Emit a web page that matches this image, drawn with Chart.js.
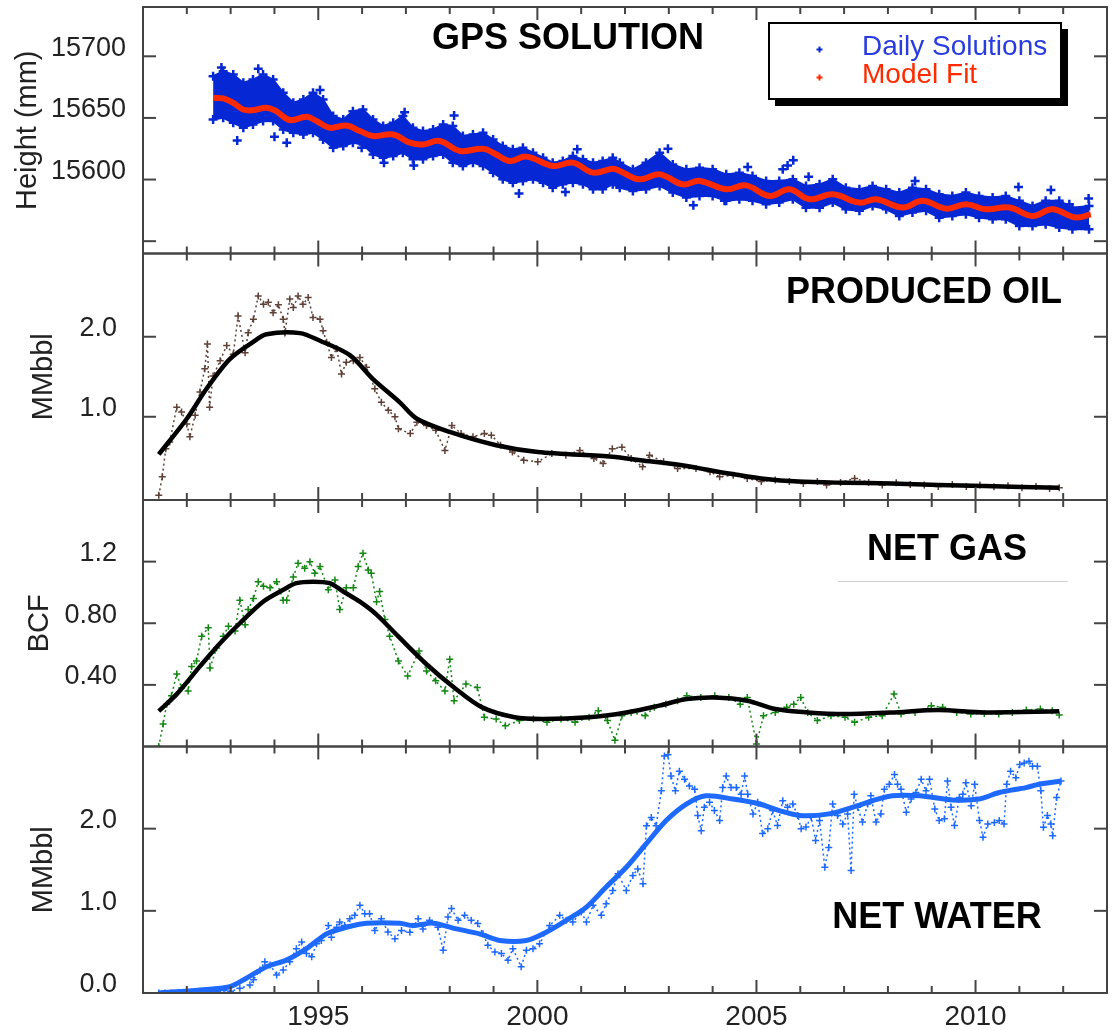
<!DOCTYPE html>
<html><head><meta charset="utf-8">
<script src="https://cdn.jsdelivr.net/npm/chart.js@4.4.1/dist/chart.umd.min.js"></script>
<style>html,body{margin:0;padding:0;background:#fff;}#wrap{position:relative;width:1114px;height:1030px;}</style>
</head><body><div id="wrap"><canvas id="c"></canvas></div>
<script>
// ---------------- DATA ----------------
const xTickYears = [1995, 2000, 2005, 2010];

// GPS daily solutions: upper / lower edge of the dense cloud (mm)
const gpsYears = [1992.60,1992.83,1993.06,1993.29,1993.51,1993.74,1993.97,1994.20,1994.43,1994.66,1994.88,1995.11,1995.34,1995.57,1995.79,1996.02,1996.25,1996.48,1996.71,1996.93,1997.16,1997.39,1997.62,1997.85,1998.07,1998.30,1998.53,1998.76,1998.99,1999.21,1999.44,1999.67,1999.90,2000.13,2000.35,2000.58,2000.81,2001.04,2001.27,2001.49,2001.72,2001.88,2002.18,2002.48,2002.79,2003.09,2003.40,2003.70,2004.00,2004.31,2004.61,2004.91,2005.22,2005.52,2005.83,2006.13,2006.44,2006.74,2007.04,2007.35,2007.65,2007.96,2008.26,2008.56,2008.87,2009.17,2009.47,2009.78,2010.08,2010.39,2010.69,2011.00,2011.30,2011.60,2011.91,2012.21,2012.59];
const gpsUpper = [15683.9,15687.9,15685.2,15678.5,15681.1,15685.2,15681.1,15670.4,15662.3,15664.9,15670.4,15664.9,15651.5,15648.7,15655.5,15656.9,15648.7,15643.4,15646.1,15651.5,15642.0,15639.3,15640.6,15644.7,15643.4,15635.3,15636.6,15638.0,15632.5,15627.2,15624.5,15625.8,15621.8,15617.7,15613.7,15615.1,15619.1,15616.4,15613.7,15615.1,15617.7,15613.7,15608.3,15613.7,15621.8,15612.3,15608.3,15609.6,15608.3,15604.2,15605.6,15602.9,15598.9,15598.9,15600.2,15594.8,15596.1,15600.2,15593.4,15592.1,15594.8,15592.1,15589.4,15593.4,15592.1,15588.0,15586.7,15589.4,15586.7,15585.4,15586.7,15582.7,15578.6,15582.7,15582.7,15577.2,15578.6];
const gpsLower = [15648.7,15650.1,15646.1,15642.0,15644.7,15647.5,15647.5,15640.6,15638.0,15636.6,15638.0,15632.5,15625.8,15627.2,15629.9,15628.5,15620.4,15617.7,15619.1,15621.8,15616.4,15616.4,15619.1,15620.4,15613.7,15611.0,15613.7,15611.0,15605.6,15600.2,15597.5,15598.9,15600.2,15597.5,15593.4,15596.1,15597.5,15596.1,15592.1,15592.1,15596.1,15593.4,15590.8,15592.1,15594.8,15589.4,15585.4,15586.7,15586.7,15582.7,15584.0,15582.7,15579.9,15581.3,15584.0,15577.2,15577.2,15581.3,15575.9,15574.6,15578.6,15575.9,15570.5,15573.2,15574.6,15569.1,15570.5,15571.8,15569.1,15567.8,15567.8,15562.4,15562.4,15563.7,15561.0,15559.7,15559.7];
const gpsOutliers = [[1992.79,15691],[1993.63,15689.8],[1993.15,15631.7],[1994.28,15629.9],[1994.0,15634.7],[1995.04,15672.6],[1995.99,15625.8],[1996.5,15613.7],[1997.18,15611.5],[1996.97,15654.7],[1998.1,15652],[1999.58,15588.6],[2000.64,15590],[2000.91,15624.5],[2002.98,15625],[2005.84,15615.6],[2005.71,15611.5],[2005.6,15608.3],[2003.56,15579.1],[2004.27,15582.7],[2004.8,15610.2],[2006.19,15602.3],[2008.62,15598.9],[2010.98,15594],[2011.72,15591.6],[2012.58,15584.6],[2012.14,15580]];
const gpsFitYears = [1992.6,1992.83,1993.06,1993.29,1993.51,1993.82,1994.04,1994.35,1994.73,1994.96,1995.26,1995.64,1995.95,1996.25,1996.71,1997.09,1997.39,1997.77,1998.23,1998.76,1999.06,1999.37,1999.75,2000.36,2000.81,2001.27,2001.72,2001.88,2002.33,2002.79,2003.32,2003.7,2004.31,2004.76,2005.3,2005.75,2006.21,2006.74,2007.35,2007.73,2008.34,2008.79,2009.33,2009.78,2010.24,2010.77,2011.3,2011.75,2012.29,2012.63];
const gpsFit = [15666.3,15665.8,15662.3,15656.8,15656.3,15658.2,15655.5,15648.3,15650.9,15647.5,15642.0,15643.9,15639.4,15635.3,15636.6,15629.9,15628.5,15631.3,15623.2,15625.0,15620.4,15615.1,15618.6,15611.0,15613.7,15605.6,15608.8,15607.0,15600.2,15604.2,15596.1,15598.9,15592.1,15595.3,15586.7,15592.1,15584.0,15588.0,15581.3,15584.0,15577.3,15582.7,15576.4,15580.0,15575.9,15577.3,15570.5,15575.9,15569.2,15571.8];

// Produced oil (MMbbl)
const oilMonthly = [[1991.36,0.02],[1991.44,0.25],[1991.52,0.60],[1991.61,0.685],[1991.77,1.12],[1991.88,1.06],[1992.0,0.91],[1992.07,0.75],[1992.19,1.02],[1992.3,1.31],[1992.41,1.60],[1992.47,1.91],[1992.52,1.12],[1992.6,1.51],[1992.76,1.70],[1992.91,1.89],[1993.06,1.78],[1993.17,2.26],[1993.33,1.80],[1993.4,2.05],[1993.52,2.22],[1993.63,2.51],[1993.75,2.405],[1993.86,2.43],[1993.97,2.30],[1994.09,2.40],[1994.2,2.22],[1994.24,2.05],[1994.35,2.47],[1994.43,2.365],[1994.54,2.51],[1994.65,2.405],[1994.77,2.49],[1994.88,2.24],[1995.04,2.22],[1995.11,2.075],[1995.19,1.93],[1995.3,1.74],[1995.42,1.85],[1995.53,1.535],[1995.64,1.68],[1995.8,1.70],[1995.95,1.74],[1996.1,1.62],[1996.29,1.35],[1996.44,1.18],[1996.6,1.08],[1996.75,1.0],[1996.83,0.85],[1997.1,0.79],[1997.25,0.93],[1997.47,0.89],[1997.68,0.83],[1997.89,0.58],[1998.05,0.89],[1998.26,0.79],[1998.53,0.75],[1998.79,0.79],[1998.95,0.77],[1999.16,0.644],[1999.43,0.56],[1999.69,0.457],[2000.01,0.437],[2000.33,0.54],[2000.65,0.52],[2000.97,0.58],[2001.29,0.478],[2001.5,0.415],[2001.71,0.60],[2001.93,0.62],[2002.14,0.478],[2002.4,0.374],[2002.56,0.52],[2002.88,0.437],[2003.2,0.353],[2003.62,0.353],[2003.94,0.312],[2004.16,0.25],[2004.47,0.27],[2004.79,0.23],[2005.11,0.19],[2005.43,0.21],[2005.75,0.19],[2006.07,0.167],[2006.39,0.19],[2006.6,0.147],[2006.92,0.18],[2007.24,0.23],[2007.56,0.18],[2007.87,0.147],[2008.19,0.175],[2008.51,0.154],[2008.83,0.147],[2009.15,0.13],[2009.47,0.154],[2009.79,0.13],[2010.1,0.147],[2010.42,0.126],[2010.74,0.138],[2011.06,0.113],[2011.38,0.13],[2011.69,0.105],[2011.91,0.113]];
const oilFitYears = [1991.36,1992.0,1992.45,1992.98,1993.5,1993.82,1994.58,1995.04,1995.72,1996.25,1996.86,1997.25,1998.0,1999.06,2000.01,2001.71,2002.35,2003.3,2004.37,2005.11,2005.96,2007.02,2008.08,2009.15,2010.2,2011.91];
const oilFit = [0.53,0.975,1.35,1.72,1.93,2.03,2.045,1.95,1.77,1.47,1.18,0.975,0.81,0.644,0.56,0.50,0.457,0.395,0.29,0.23,0.19,0.175,0.167,0.147,0.134,0.113];

// Net gas (BCF)
const gasMonthly = [[1991.36,0.0],[1991.46,0.146],[1991.54,0.275],[1991.65,0.33],[1991.77,0.47],[1991.88,0.38],[1992.03,0.36],[1992.11,0.52],[1992.22,0.555],[1992.34,0.716],[1992.49,0.77],[1992.53,0.51],[1992.68,0.64],[1992.83,0.716],[1992.95,0.78],[1993.1,0.75],[1993.21,0.95],[1993.33,0.79],[1993.4,0.89],[1993.52,0.96],[1993.63,1.07],[1993.75,1.04],[1993.9,1.03],[1994.05,1.07],[1994.2,0.95],[1994.28,0.95],[1994.43,1.10],[1994.54,1.19],[1994.69,1.157],[1994.81,1.2],[1994.92,1.124],[1995.04,1.168],[1995.23,1.017],[1995.38,1.08],[1995.49,0.89],[1995.64,1.03],[1995.8,1.03],[1995.91,1.168],[1996.02,1.254],[1996.14,1.146],[1996.21,1.124],[1996.33,0.94],[1996.4,1.006],[1996.52,0.824],[1996.63,0.716],[1996.83,0.555],[1997.04,0.458],[1997.3,0.62],[1997.47,0.49],[1997.68,0.426],[1997.89,0.36],[1998.0,0.566],[1998.1,0.297],[1998.37,0.405],[1998.63,0.383],[1998.79,0.19],[1999.06,0.179],[1999.27,0.135],[1999.59,0.168],[1999.91,0.179],[2000.22,0.157],[2000.54,0.179],[2000.86,0.157],[2001.18,0.19],[2001.39,0.232],[2001.6,0.168],[2001.77,0.04],[2001.93,0.2],[2002.14,0.221],[2002.46,0.2],[2002.67,0.254],[2002.93,0.275],[2003.2,0.297],[2003.41,0.329],[2003.73,0.318],[2004.05,0.329],[2004.37,0.318],[2004.63,0.275],[2004.79,0.318],[2005.0,0.017],[2005.16,0.2],[2005.43,0.221],[2005.69,0.254],[2005.85,0.275],[2006.01,0.318],[2006.17,0.221],[2006.39,0.168],[2006.7,0.2],[2007.02,0.19],[2007.24,0.157],[2007.56,0.19],[2007.87,0.2],[2008.14,0.34],[2008.3,0.211],[2008.62,0.221],[2008.99,0.265],[2009.25,0.254],[2009.57,0.221],[2009.89,0.211],[2010.2,0.215],[2010.53,0.211],[2010.84,0.221],[2011.16,0.237],[2011.48,0.243],[2011.75,0.232],[2011.91,0.205]];
const gasFitYears = [1991.36,1991.77,1992.3,1992.76,1993.21,1993.74,1994.2,1994.5,1994.88,1995.26,1995.57,1995.95,1996.33,1996.82,1997.47,1998.1,1998.74,1999.48,2000.12,2001.18,2002.03,2002.78,2003.41,2004.05,2004.79,2005.43,2006.17,2007.02,2008.08,2009.15,2010.2,2011.91];
const gasFit = [0.23,0.34,0.52,0.67,0.80,0.94,1.017,1.06,1.07,1.06,1.006,0.94,0.856,0.716,0.534,0.383,0.254,0.19,0.179,0.19,0.221,0.265,0.308,0.318,0.297,0.243,0.221,0.211,0.221,0.237,0.221,0.228];

// Net water (MMbbl)
const waterMonthly = [[1991.36,0],[1991.5,0],[1991.65,0],[1991.8,0],[1991.95,0],[1992.1,0],[1992.25,0.01],[1992.4,0.01],[1992.55,0.02],[1992.7,0.02],[1992.85,0.03],[1993.0,0.02],[1993.21,0.057],[1993.44,0.097],[1993.52,0.16],[1993.67,0.28],[1993.78,0.38],[1993.9,0.34],[1994.05,0.22],[1994.2,0.28],[1994.35,0.38],[1994.5,0.54],[1994.62,0.62],[1994.73,0.48],[1994.85,0.44],[1994.96,0.60],[1995.07,0.64],[1995.23,0.82],[1995.3,0.68],[1995.42,0.80],[1995.49,0.864],[1995.6,0.82],[1995.72,0.905],[1995.83,0.945],[1995.95,1.067],[1996.06,0.966],[1996.17,0.966],[1996.29,0.76],[1996.44,0.905],[1996.59,0.743],[1996.75,0.66],[1996.9,0.76],[1997.09,0.74],[1997.28,0.905],[1997.39,0.78],[1997.54,0.885],[1997.73,0.80],[1997.85,0.52],[1997.96,0.925],[1998.04,1.027],[1998.19,0.885],[1998.34,0.945],[1998.49,0.885],[1998.64,0.845],[1998.76,0.72],[1998.87,0.58],[1999.03,0.50],[1999.18,0.48],[1999.33,0.40],[1999.44,0.54],[1999.63,0.32],[1999.75,0.52],[1999.9,0.54],[2000.05,0.60],[2000.28,0.82],[2000.51,0.945],[2000.66,0.885],[2000.81,0.864],[2001.0,0.985],[2001.12,0.864],[2001.27,1.067],[2001.46,0.945],[2001.57,1.087],[2001.72,1.248],[2001.84,1.45],[2002.03,1.248],[2002.18,1.43],[2002.29,1.51],[2002.41,1.33],[2002.49,2.036],[2002.6,2.137],[2002.71,2.036],[2002.83,2.46],[2002.9,2.885],[2002.98,2.9],[2003.05,2.64],[2003.15,2.46],[2003.24,2.70],[2003.36,2.60],[2003.47,2.52],[2003.59,2.48],[2003.66,2.16],[2003.74,1.976],[2003.81,2.26],[2003.93,2.32],[2004.04,2.22],[2004.16,2.10],[2004.23,2.50],[2004.31,2.64],[2004.42,2.50],[2004.54,2.50],[2004.65,2.42],[2004.73,2.64],[2004.8,2.42],[2004.92,2.18],[2005.03,2.32],[2005.14,1.94],[2005.26,2.00],[2005.37,2.22],[2005.48,2.04],[2005.6,2.34],[2005.71,2.26],[2005.83,2.30],[2005.94,2.16],[2006.02,2.00],[2006.13,2.02],[2006.25,2.14],[2006.35,1.855],[2006.44,2.10],[2006.56,1.53],[2006.65,1.77],[2006.74,2.30],[2006.85,2.16],[2006.97,2.057],[2007.08,2.18],[2007.16,1.49],[2007.23,2.42],[2007.31,2.26],[2007.42,2.08],[2007.54,2.30],[2007.61,2.40],[2007.73,2.08],[2007.84,2.18],[2007.92,2.48],[2008.03,2.54],[2008.15,2.66],[2008.22,2.54],[2008.3,2.48],[2008.42,2.20],[2008.53,2.36],[2008.64,2.44],[2008.76,2.60],[2008.87,2.46],[2008.95,2.60],[2009.07,2.24],[2009.17,2.10],[2009.29,2.12],[2009.36,2.58],[2009.44,2.26],[2009.52,2.04],[2009.63,2.38],[2009.71,2.42],[2009.78,2.56],[2009.9,2.28],[2009.98,2.54],[2010.09,2.10],[2010.17,1.895],[2010.28,2.057],[2010.43,2.076],[2010.54,2.10],[2010.65,2.057],[2010.71,2.54],[2010.8,2.70],[2010.92,2.62],[2011.01,2.78],[2011.11,2.80],[2011.22,2.82],[2011.3,2.76],[2011.41,2.76],[2011.49,2.46],[2011.55,2.016],[2011.64,2.16],[2011.72,2.057],[2011.76,1.915],[2011.85,2.38],[2011.95,2.58]];
const waterFitYears = [1991.36,1992.3,1992.98,1993.36,1993.82,1994.27,1994.73,1995.19,1995.64,1996.1,1996.86,1997.16,1997.62,1998.15,1998.68,1999.14,1999.75,2000.2,2000.66,2001.12,2001.57,2002.03,2002.49,2002.94,2003.4,2003.85,2004.46,2005.07,2005.52,2005.98,2006.66,2007.19,2007.65,2008.1,2008.72,2009.47,2010.08,2010.54,2011.15,2011.45,2011.95];
const waterFit = [0,0.036,0.076,0.18,0.32,0.40,0.54,0.72,0.80,0.85,0.85,0.82,0.85,0.78,0.72,0.64,0.64,0.74,0.885,1.046,1.29,1.53,1.82,2.10,2.30,2.40,2.36,2.30,2.22,2.16,2.18,2.26,2.34,2.40,2.40,2.35,2.36,2.44,2.50,2.54,2.58];

// y tick values and labels
const gpsTicks = [15550, 15600, 15650, 15700];
const gpsTickLabels = ['', '15600', '15650', '15700'];
const oilTicks = [1.0, 2.0];
const oilTickLabels = ['1.0', '2.0'];
const gasTicks = [0.4, 0.8, 1.2];
const gasTickLabels = ['0.40', '0.80', '1.2'];
const waterTicks = [0.0, 1.0, 2.0];
const waterTickLabels = ['0.0', '1.0', '2.0'];

// ---------------- STYLE ----------------
const FONT = "'Liberation Sans', Arial, Helvetica, sans-serif";
const BLUE = 'rgb(6,40,212)';
const RED = 'rgb(255,42,0)';
const BROWN = 'rgb(95,65,55)';
const GREEN = 'rgb(20,135,20)';
const WBLUE = 'rgb(30,105,255)';
const TXT = '#222';
const FRAME = '#444';

const xy = (xs, ys) => xs.map((x, i) => ({x: x, y: ys[i]}));
const pairs = a => a.map(p => ({x: p[0], y: p[1]}));

function yAxis(min, max, ticks, labels, title, tickPad, titlePad) {
  return {
    type: 'linear', position: 'left', stack: 'panels', stackWeight: 1,
    min: min, max: max,
    grid: {display: false, drawTicks: false}, border: {display: false},
    afterBuildTicks: s => { s.ticks = ticks.map(v => ({value: v})); },
    afterFit: s => { s.width = 143; s.paddingTop = 0; s.paddingBottom = 0; },
    ticks: {
      font: {family: FONT, size: 27}, color: TXT, padding: tickPad, labelOffset: -8,
      callback: v => { const i = ticks.indexOf(v); return i >= 0 ? labels[i] : ''; }
    },
    title: {display: true, text: title, color: TXT, font: {family: FONT, size: 29}, padding: {top: titlePad, bottom: 0}}
  };
}

function monthlyDs(data, color, axis) {
  return {data: data, yAxisID: axis, borderColor: color, backgroundColor: color, borderWidth: 1.5,
    borderDash: [2, 3], pointStyle: 'cross', pointRadius: 3.5, pointBorderWidth: 1.5,
    pointBorderColor: color, tension: 0, order: 2};
}
function fitDs(data, color, axis, w) {
  return {data: data, yAxisID: axis, borderColor: color, borderWidth: w, pointRadius: 0, tension: 0.3, order: 1};
}

const panelLabels = [
  {text: 'GPS SOLUTION', x: 568, y: 39},
  {text: 'PRODUCED OIL', x: 924, y: 293},
  {text: 'NET GAS', x: 947, y: 550},
  {text: 'NET WATER', x: 937, y: 918}
];
const panelAxes = ['yGps', 'yOil', 'yGas', 'yWater'];

function cross(ctx, x, y, r, color, w) {
  ctx.strokeStyle = color; ctx.lineWidth = w;
  ctx.beginPath(); ctx.moveTo(x - r, y); ctx.lineTo(x + r, y); ctx.moveTo(x, y - r); ctx.lineTo(x, y + r); ctx.stroke();
}

const framePlugin = {
  id: 'frame',
  afterDraw(chart) {
    const ctx = chart.ctx, ca = chart.chartArea, xs = chart.scales.x;
    ctx.save();
    ctx.strokeStyle = FRAME; ctx.lineWidth = 2; ctx.lineCap = 'butt';
    const line = (a, b, c, d) => { ctx.beginPath(); ctx.moveTo(a, b); ctx.lineTo(c, d); ctx.stroke(); };
    panelAxes.forEach(id => {
      const s = chart.scales[id];
      ctx.strokeStyle = FRAME; ctx.lineWidth = 2;
      ctx.strokeRect(ca.left, s.top, ca.right - ca.left, s.bottom - s.top);
      s.ticks.forEach(t => {
        const py = s.getPixelForValue(t.value);
        line(ca.left, py, ca.left + 13, py);
        line(ca.right - 13, py, ca.right, py);
      });
      for (let yr = Math.ceil(xs.min); yr < xs.max; yr++) {
        if (yr <= xs.min) continue;
        const px = xs.getPixelForValue(yr);
        const L = yr % 5 === 0 ? 13 : 7;
        line(px, s.bottom, px, s.bottom - L);
        line(px, s.top, px, s.top + L);
      }
    });
    // panel labels
    ctx.fillStyle = '#000';
    ctx.font = 'bold 36px ' + FONT;
    ctx.textAlign = 'center'; ctx.textBaseline = 'middle';
    panelLabels.forEach(p => ctx.fillText(p.text, p.x, p.y));
    // faint rule under NET GAS
    ctx.strokeStyle = '#d0d0d0'; ctx.lineWidth = 1;
    line(838, 581.5, 1068, 581.5);
    // legend box with shadow
    const bx = 769, by = 23, bw = 292, bh = 76;
    ctx.fillStyle = '#000';
    ctx.fillRect(bx + 6, by + 6, bw + 1, bh + 1);
    ctx.fillStyle = '#fff';
    ctx.fillRect(bx, by, bw, bh);
    ctx.strokeStyle = '#000'; ctx.lineWidth = 2;
    ctx.strokeRect(bx, by, bw, bh);
    const ds = chart.data.datasets;
    ctx.font = '28px ' + FONT; ctx.textAlign = 'left'; ctx.textBaseline = 'middle';
    cross(ctx, 819.5, 49.5, 3, ds[0].borderColor, 2);
    ctx.fillStyle = 'rgb(40,60,225)'; ctx.fillText(ds[0].label, 862, 47);
    cross(ctx, 819.5, 77.5, 3, ds[3].borderColor, 2);
    ctx.fillStyle = ds[3].borderColor; ctx.fillText(ds[3].label, 862, 75);
    ctx.restore();
  }
};

new Chart(document.getElementById('c'), {
  type: 'line',
  data: {
    datasets: [
      {label: 'Daily Solutions', data: xy(gpsYears, gpsUpper), yAxisID: 'yGps', borderColor: BLUE, backgroundColor: BLUE,
       borderWidth: 2, pointStyle: 'cross', pointRadius: 4.5, pointBorderWidth: 2.5, pointBorderColor: BLUE, fill: false, order: 3},
      {label: 'Daily Solutions (lower edge)', data: xy(gpsYears, gpsLower), yAxisID: 'yGps', borderColor: BLUE, backgroundColor: BLUE,
       borderWidth: 2, pointStyle: 'cross', pointRadius: 4.5, pointBorderWidth: 2.5, pointBorderColor: BLUE, fill: '-1', order: 3},
      {label: 'Daily Solutions (scatter)', data: pairs(gpsOutliers), yAxisID: 'yGps', showLine: false, borderColor: BLUE,
       pointStyle: 'cross', pointRadius: 4.5, pointBorderWidth: 2.5, pointBorderColor: BLUE, order: 3},
      {label: 'Model Fit', data: xy(gpsFitYears, gpsFit), yAxisID: 'yGps', borderColor: RED, borderWidth: 6, pointRadius: 0, tension: 0.4, order: 0},
      Object.assign(monthlyDs(pairs(oilMonthly), BROWN, 'yOil'), {label: 'Produced oil (monthly)'}),
      Object.assign(fitDs(xy(oilFitYears, oilFit), '#000', 'yOil', 4.5), {label: 'Produced oil (fit)'}),
      Object.assign(monthlyDs(pairs(gasMonthly), GREEN, 'yGas'), {label: 'Net gas (monthly)'}),
      Object.assign(fitDs(xy(gasFitYears, gasFit), '#000', 'yGas', 4.5), {label: 'Net gas (fit)'}),
      Object.assign(monthlyDs(pairs(waterMonthly), WBLUE, 'yWater'), {label: 'Net water (monthly)'}),
      Object.assign(fitDs(xy(waterFitYears, waterFit), WBLUE, 'yWater', 5), {label: 'Net water (fit)'})
    ]
  },
  options: {
    responsive: true, maintainAspectRatio: false, animation: false, events: [],
    layout: {padding: {top: 4, right: 6, left: 0, bottom: 0}},
    plugins: {legend: {display: false}, tooltip: {enabled: false}},
    scales: {
      x: {
        type: 'linear', position: 'bottom', min: 1991, max: 2013,
        grid: {display: false, drawTicks: false}, border: {display: false},
        afterBuildTicks: s => { s.ticks = xTickYears.map(v => ({value: v})); },
        afterFit: s => { s.height = 37; s.paddingLeft = 0; s.paddingRight = 0; },
        ticks: {font: {family: FONT, size: 28}, color: TXT, padding: 7, maxRotation: 0, autoSkip: false, callback: v => String(v)}
      },
      yWater: yAxis(0, 3.0, waterTicks, waterTickLabels, 'MMbbl', 26, 27),
      yGas: yAxis(0, 1.6, gasTicks, gasTickLabels, 'BCF', 26, 23),
      yOil: yAxis(-0.04, 3.04, oilTicks, oilTickLabels, 'MMbbl', 26, 27),
      yGps: yAxis(15540, 15740, gpsTicks, gpsTickLabels, 'Height (mm)', 17, 11)
    }
  },
  plugins: [framePlugin]
});
</script>
</body></html>
